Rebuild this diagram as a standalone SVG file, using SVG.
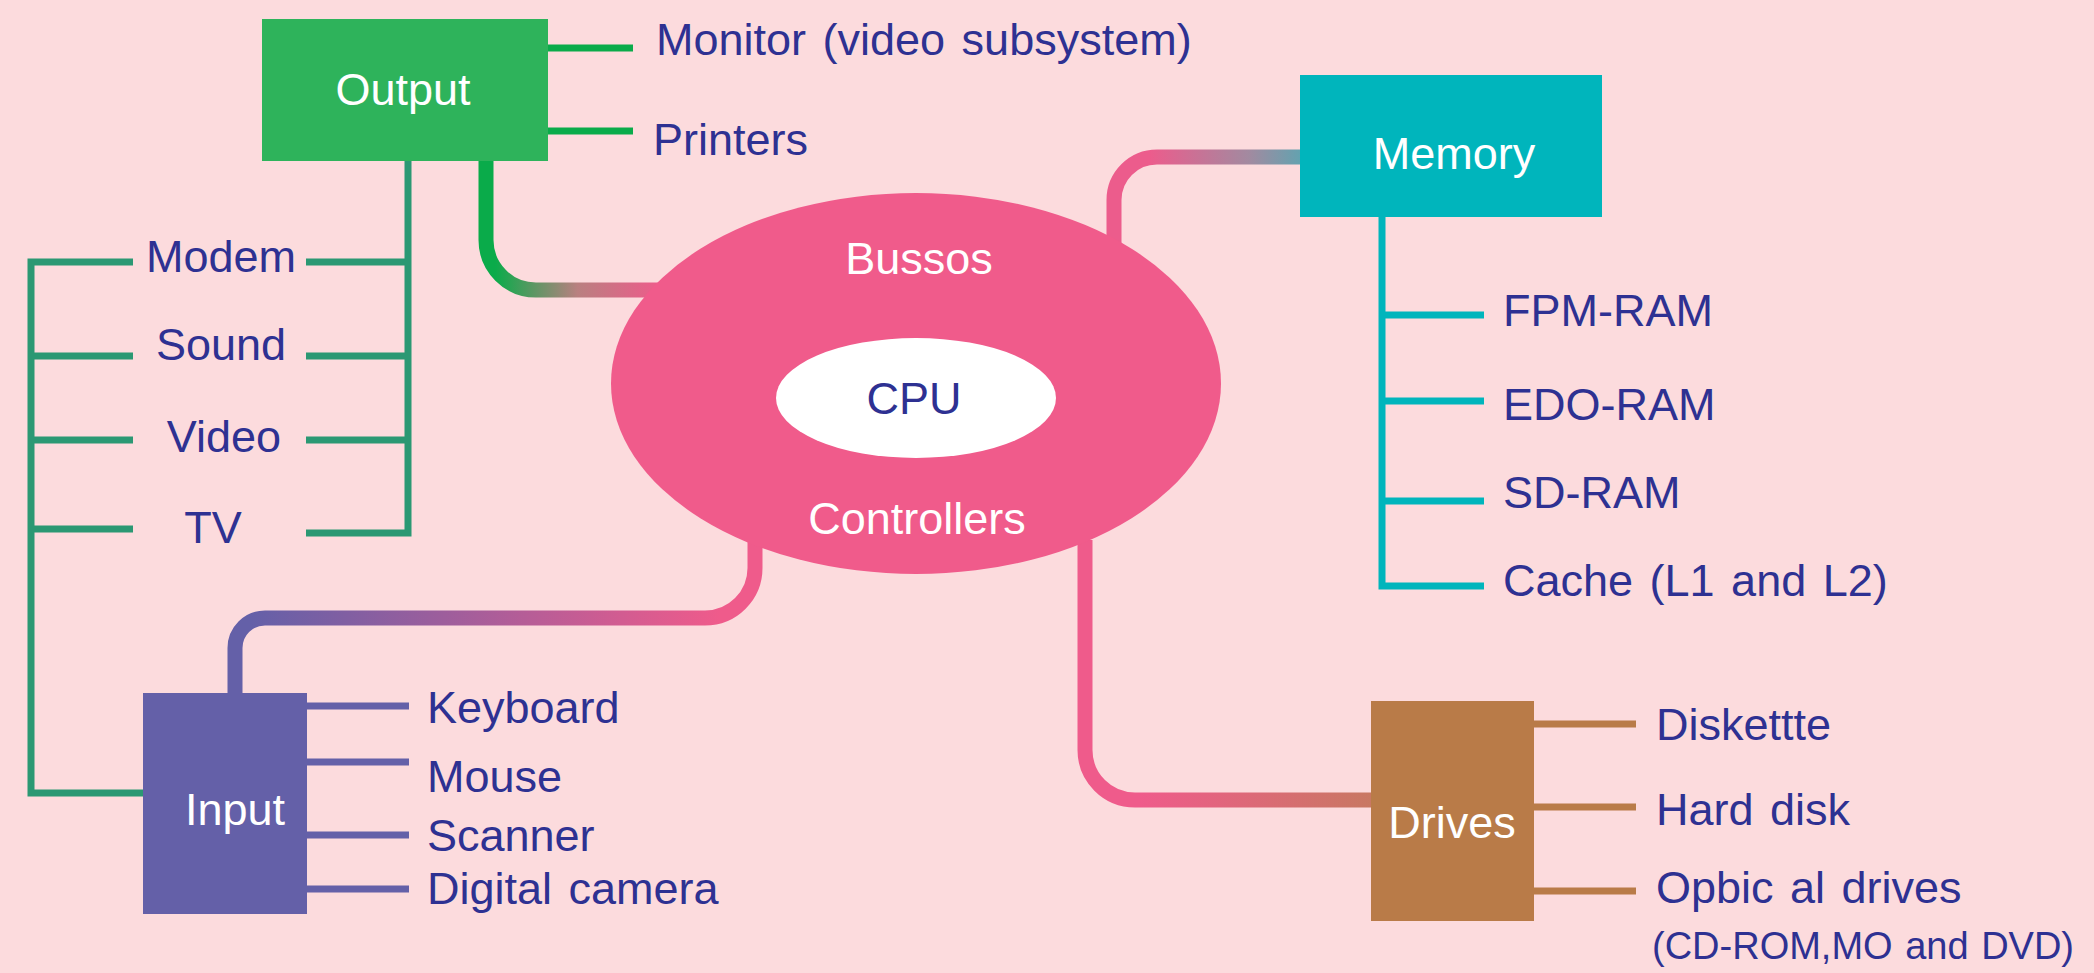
<svg xmlns="http://www.w3.org/2000/svg" width="2094" height="973" viewBox="0 0 2094 973">
<style>
text{font-family:"Liberation Sans",Arial,sans-serif;font-size:45px}
.lbl{fill:#2e3192;word-spacing:4px}
.wt{fill:#ffffff;text-anchor:middle}
.mid{text-anchor:middle}
.bus{fill:none;stroke-width:15;stroke-linejoin:round}
.gOut{stroke:#0aab4a;stroke-width:7;fill:none}
.br{stroke:#2b9873;stroke-width:7;fill:none}
.mem{stroke:#00b5bc;stroke-width:7;fill:none}
.inp{stroke:#6460a8;stroke-width:7;fill:none}
.drv{stroke:#b97b48;stroke-width:7;fill:none}
</style>
<defs>
<linearGradient id="gO" gradientUnits="userSpaceOnUse" x1="495" y1="0" x2="660" y2="0">
<stop offset="0" stop-color="#0aab4a"/><stop offset="0.5" stop-color="#b98080"/><stop offset="1" stop-color="#ee5b8b"/>
</linearGradient>
<linearGradient id="gM" gradientUnits="userSpaceOnUse" x1="1150" y1="0" x2="1330" y2="0">
<stop offset="0" stop-color="#ec5c8c"/><stop offset="0.55" stop-color="#a28aa0"/><stop offset="1" stop-color="#3fb0b8"/>
</linearGradient>
<linearGradient id="gD" gradientUnits="userSpaceOnUse" x1="1140" y1="0" x2="1372" y2="0">
<stop offset="0" stop-color="#ef5b8b"/><stop offset="1" stop-color="#c87862"/>
</linearGradient>
<linearGradient id="gI" gradientUnits="userSpaceOnUse" x1="250" y1="0" x2="720" y2="0">
<stop offset="0" stop-color="#6460a8"/><stop offset="1" stop-color="#ef5b8b"/>
</linearGradient>
</defs>
<rect x="0" y="0" width="2094" height="973" fill="#fcdbdd"/>

<g id="connectors">
<path class="bus" stroke="url(#gO)" d="M486 161 V240 A50 50 0 0 0 536 290 H700"/>
<path class="bus" stroke="url(#gM)" d="M1114 263 V200 A43 43 0 0 1 1157 157 H1330"/>
<path class="bus" stroke="url(#gD)" d="M1085 540 V750 A50 50 0 0 0 1135 800 H1372"/>
<path class="bus" stroke="url(#gI)" d="M235 694 V648 A30 30 0 0 1 265 618 H705 A50 50 0 0 0 755 568 V540"/>
<path class="gOut" d="M548 48 H633 M548 131 H633"/>
<path class="br" d="M408 161 V533 H306 M306 262 H408 M306 356 H408 M306 440 H408"/>
<path class="br" d="M133 262 H31 V793 H143 M31 356 H133 M31 440 H133 M31 529 H133"/>
<path class="inp" d="M307 706 H409 M307 762 H409 M307 835 H409 M307 889 H409"/>
<path class="mem" d="M1382 217 V586 H1484 M1382 315 H1484 M1382 401 H1484 M1382 501 H1484"/>
<path class="drv" d="M1534 724 H1636 M1534 807 H1636 M1534 891 H1636"/>
</g>

<g id="core">
<ellipse cx="916" cy="383.5" rx="305" ry="190.5" fill="#f05b8b"/>
<ellipse cx="916" cy="398" rx="140" ry="60" fill="#ffffff"/>
<text class="wt" x="919" y="274">Bussos</text>
<text class="lbl mid" x="914" y="414">CPU</text>
<text class="wt" x="917" y="534">Controllers</text>
</g>

<g id="output">
<rect x="262" y="19" width="286" height="142" fill="#2eb35b"/>
<text class="wt" x="403" y="105">Output</text>
<text class="lbl" x="656" y="55">Monitor (video subsystem)</text>
<text class="lbl" x="653" y="155">Printers</text>
</g>

<g id="interfaces">
<text class="lbl mid" x="221" y="272">Modem</text>
<text class="lbl mid" x="221" y="360">Sound</text>
<text class="lbl mid" x="224" y="452">Video</text>
<text class="lbl mid" x="213" y="543">TV</text>
</g>

<g id="input">
<rect x="143" y="693" width="164" height="221" fill="#6460a8"/>
<text class="wt" x="235" y="825">Input</text>
<text class="lbl" x="427" y="723">Keyboard</text>
<text class="lbl" x="427" y="792">Mouse</text>
<text class="lbl" x="427" y="851">Scanner</text>
<text class="lbl" x="427" y="904">Digital camera</text>
</g>

<g id="memory">
<rect x="1300" y="75" width="302" height="142" fill="#00b5bc"/>
<text class="wt" x="1454" y="169">Memory</text>
<text class="lbl" x="1503" y="326">FPM-RAM</text>
<text class="lbl" x="1503" y="420">EDO-RAM</text>
<text class="lbl" x="1503" y="508">SD-RAM</text>
<text class="lbl" x="1503" y="596">Cache (L1 and L2)</text>
</g>

<g id="drives">
<rect x="1371" y="701" width="163" height="220" fill="#b97b48"/>
<text class="wt" x="1452" y="838">Drives</text>
<text class="lbl" x="1656" y="740">Diskettte</text>
<text class="lbl" x="1656" y="825">Hard disk</text>
<text class="lbl" x="1656" y="903">Opbic al drives</text>
<text class="lbl" x="1652" y="959" style="font-size:38px;word-spacing:2px">(CD-ROM,MO and DVD)</text>
</g>
</svg>
